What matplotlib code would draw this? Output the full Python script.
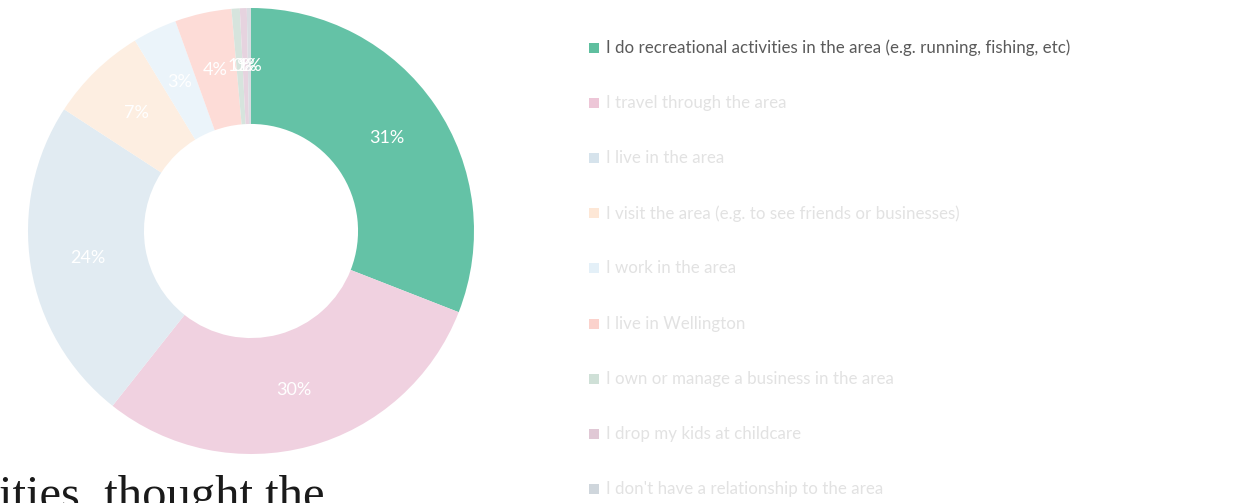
import matplotlib.pyplot as plt
from matplotlib.patches import Rectangle

# reference size in pixels
W, H = 1245, 503

categories = [
    "I do recreational activities in the area (e.g. running, fishing, etc)",
    "I travel through the area",
    "I live in the area",
    "I visit the area (e.g. to see friends or businesses)",
    "I work in the area",
    "I live in Wellington",
    "I own or manage a business in the area",
    "I drop my kids at childcare",
    "I don't have a relationship to the area",
]
shares = [30.9, 29.7, 23.5, 7.1, 3.2, 4.1, 0.6, 0.5, 0.3]
pct_labels = ["31%", "30%", "24%", "7%", "3%", "4%", "1%", "0%", "1%"]

# first slice highlighted, the rest faded (hover state)
slice_colors = ["#64c2a6", "#f0d1e0", "#e1ebf2", "#fdeee1", "#ebf4fa",
                "#fddcd7", "#d6e4dd", "#e6d3df", "#d9dde2"]
legend_colors = ["#5fbf9f", "#edc6d7", "#d6e3ec", "#fde7d6", "#e4f0f8",
                 "#fbd2cc", "#cfe0d7", "#e0c8d5", "#cfd6dc"]
text_colors = ["#5a5a5a"] + ["#e2e2e2"] * 8

fig = plt.figure(figsize=(W / 100, H / 100), dpi=100)
ax = fig.add_axes([0, 0, 1, 1])

cx, cy, r = 251, H - 231, 223
wedges, texts, autotexts = ax.pie(
    shares, colors=slice_colors, startangle=90, counterclock=False,
    center=(cx, cy), radius=r, autopct="%1.0f%%", pctdistance=0.74,
    wedgeprops=dict(width=r * 0.52, linewidth=0),
)
for t, lab in zip(autotexts, pct_labels):
    t.set_text(lab)
    t.set_color("white")
    t.set_fontsize(13)
    t.set_family("Lato")

# legend on the right
for i, (name, sq, tc) in enumerate(zip(categories, legend_colors, text_colors)):
    y = H - (48 + i * 55.1)
    ax.add_patch(Rectangle((589, y - 5), 10, 10, facecolor=sq, edgecolor="none"))
    ax.text(606, y, name, color=tc, fontsize=12.2, family="Lato", va="center", ha="left")

# cut-off text from the page below the chart
ax.text(-1, H - 509, "ities, thought the", fontsize=35, family="Liberation Serif",
        color="#1a1a1a", va="baseline", ha="left")

ax.set_xlim(0, W)
ax.set_ylim(0, H)
ax.set_aspect("equal")
ax.axis("off")

fig.savefig("out.png", dpi=100)
